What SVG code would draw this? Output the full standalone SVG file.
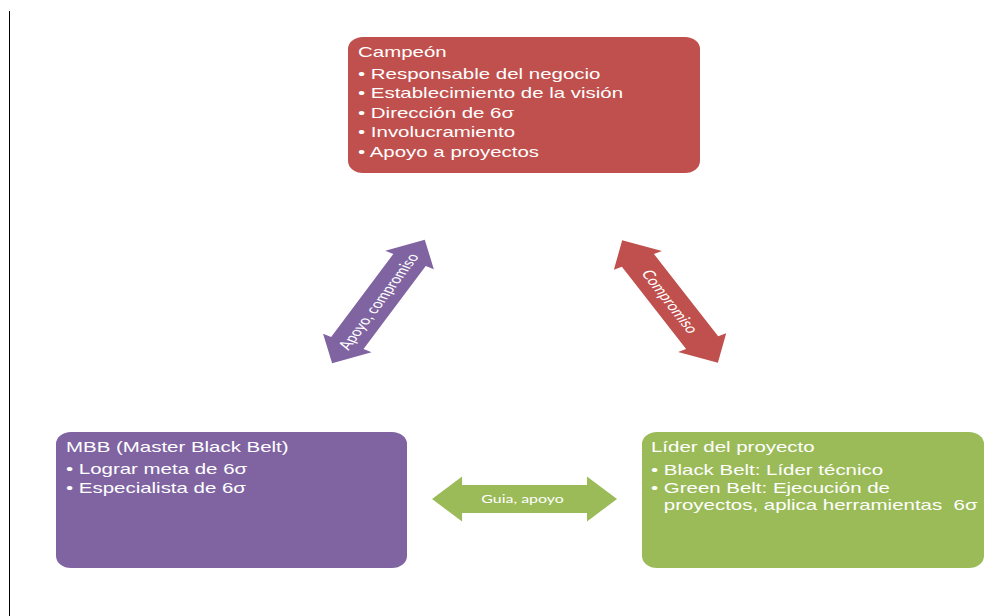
<svg xmlns="http://www.w3.org/2000/svg" width="984" height="616" viewBox="0 0 984 616">
  <defs>
    <style>
      .box-text { font-family: "Liberation Sans", Arial, sans-serif; font-size: 14.5px; fill: #ffffff; }
      .arrow-text { font-family: Lato, "Open Sans", sans-serif; fill: #ffffff; text-anchor: middle; }
      .red { fill: #C0504D; }
      .purple { fill: #8064A2; }
      .green { fill: #9BBB59; }
    </style>
    <!-- double-headed arrow, centred on the origin, pointing along x -->
    <path id="dbl-arrow" d="M -70 0 L -47 -19.5 L -47 -13 L 47 -13 L 47 -19.5 L 70 0 L 47 19.5 L 47 13 L -47 13 L -47 19.5 Z"/>
  </defs>

  <rect width="984" height="616" fill="#ffffff"/>

  <!-- left margin rule -->
  <line x1="9.5" y1="11" x2="9.5" y2="616" stroke="#000000" stroke-width="1"/>

  <!-- Campeón -->
  <g id="campeon">
    <rect class="red" x="348" y="37" width="352" height="136" rx="15" ry="12"/>
    <g class="box-text" transform="translate(358 0) scale(1.41 1)">
      <text x="0" y="57">Campeón</text>
      <text x="0" y="79">• Responsable del negocio</text>
      <text x="0" y="98.5">• Establecimiento de la visión</text>
      <text x="0" y="118">• Dirección de 6σ</text>
      <text x="0" y="137.5">• Involucramiento</text>
      <text x="0" y="157">• Apoyo a proyectos</text>
    </g>
  </g>

  <!-- MBB -->
  <g id="mbb">
    <rect class="purple" x="56" y="432" width="351" height="136" rx="15" ry="12"/>
    <g class="box-text" transform="translate(66 0) scale(1.41 1)">
      <text x="0" y="452">MBB (Master Black Belt)</text>
      <text x="0" y="474">• Lograr meta de 6σ</text>
      <text x="0" y="493">• Especialista de 6σ</text>
    </g>
  </g>

  <!-- Líder del proyecto -->
  <g id="lider">
    <rect class="green" x="642" y="432" width="342" height="136" rx="15" ry="12"/>
    <g class="box-text" transform="translate(651 0) scale(1.41 1)">
      <text x="0" y="452">Líder del proyecto</text>
      <text x="0" y="475">• Black Belt: Líder técnico</text>
      <text x="0" y="493.5">• Green Belt: Ejecución de</text>
      <text x="9.1" y="510" xml:space="preserve">proyectos, aplica herramientas  6σ</text>
    </g>
  </g>

  <!-- connectors -->
  <g id="connectors">
    <g transform="scale(1.41 1)">
      <!-- MBB <-> Campeón -->
      <g id="arrow-mbb-campeon" transform="translate(268.4 301.5) rotate(-62)">
        <use href="#dbl-arrow" class="purple"/>
        <text class="arrow-text" x="0" y="4.4" font-size="12.5" textLength="107" lengthAdjust="spacingAndGlyphs">Apoyo, compromiso</text>
      </g>
      <!-- Campeón <-> Líder -->
      <g id="arrow-campeon-lider" transform="translate(475.2 301.5) rotate(61)">
        <use href="#dbl-arrow" class="red"/>
        <text class="arrow-text" x="0" y="4.4" font-size="12.5" textLength="70" lengthAdjust="spacingAndGlyphs">Compromiso</text>
      </g>
      <!-- MBB <-> Líder -->
      <g id="arrow-mbb-lider">
        <path class="green" d="M 306.4 499 L 327.7 476.5 L 327.7 485 L 416.3 485 L 416.3 476.5 L 437.6 499 L 416.3 521.5 L 416.3 513 L 327.7 513 L 327.7 521.5 Z"/>
        <text class="arrow-text" x="370.6" y="503" font-size="11.5" textLength="58.5" lengthAdjust="spacingAndGlyphs">Guia, apoyo</text>
      </g>
    </g>
  </g>
</svg>
